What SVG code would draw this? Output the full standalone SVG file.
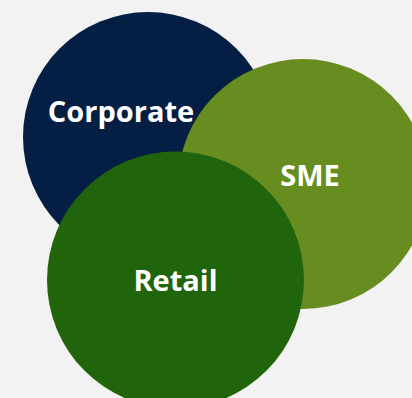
<svg xmlns="http://www.w3.org/2000/svg" width="412" height="398" viewBox="0 0 412 398">
<style>
.lbl{font-family:"Open Sans","Liberation Sans",sans-serif;font-weight:700;font-size:29px;fill:#ffffff;text-anchor:middle}
</style>
<rect width="412" height="398" fill="#f2f2f2"/>
<g id="corporate">
<circle cx="148" cy="137" r="125" fill="#041f43"/>
<text class="lbl" x="121" y="122">Corporate</text>
</g>
<g id="sme">
<circle cx="303" cy="184" r="125" fill="#678d21"/>
<text class="lbl" x="310" y="186">SME</text>
</g>
<g id="retail">
<circle cx="175.5" cy="280" r="128.5" fill="#20650c"/>
<text class="lbl" x="175.5" y="291">Retail</text>
</g>
<g id="connectors"/>
</svg>
